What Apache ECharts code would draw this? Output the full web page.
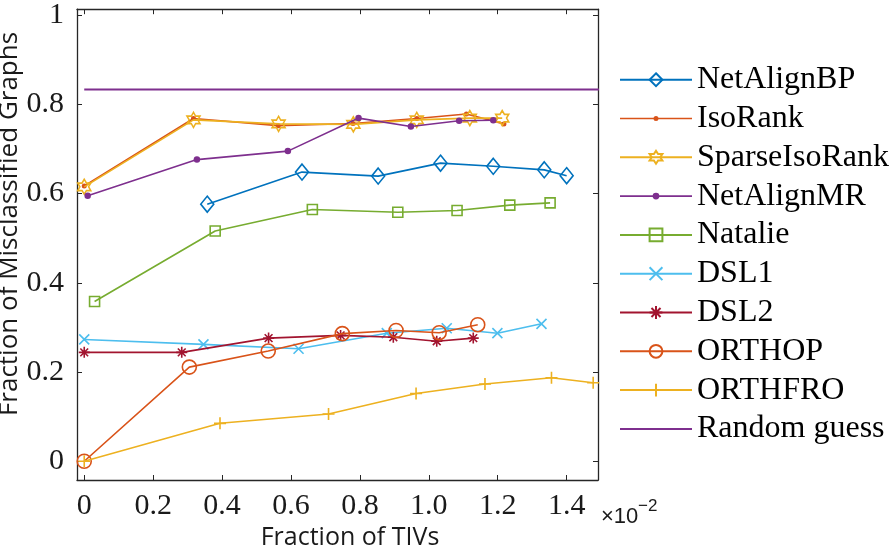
<!DOCTYPE html>
<html>
<head>
<meta charset="utf-8">
<script src="https://cdn.jsdelivr.net/npm/echarts@6/dist/echarts.min.js"></script>
<style>
html,body{margin:0;padding:0;background:#fff;}
#chart{width:894px;height:551px;}
</style>
</head>
<body>
<div id="chart"></div>
<script>
// ---- data (x in units of 1e-2) ----
const seriesNames = ["NetAlignBP","IsoRank","SparseIsoRank","NetAlignMR","Natalie","DSL1","DSL2","ORTHOP","ORTHFRO","Random guess"];
const netAlignBPX = [0.357,0.632,0.853,1.034,1.187,1.335,1.400];
const netAlignBPY = [0.576,0.648,0.639,0.668,0.661,0.653,0.640];
const isoRankX = [0,0.317,0.563,0.780,0.965,1.109,1.218];
const isoRankY = [0.617,0.768,0.752,0.757,0.768,0.778,0.756];
const sparseIsoRankX = [0,0.317,0.564,0.781,0.965,1.119,1.213];
const sparseIsoRankY = [0.615,0.765,0.756,0.755,0.765,0.769,0.769];
const netAlignMRX = [0.010,0.327,0.591,0.796,0.948,1.088,1.187];
const netAlignMRY = [0.595,0.676,0.695,0.769,0.750,0.763,0.764];
const natalieX = [0.030,0.380,0.662,0.910,1.082,1.235,1.352];
const natalieY = [0.358,0.516,0.564,0.558,0.562,0.574,0.579];
const dsl1X = [0,0.346,0.622,0.878,1.052,1.199,1.327];
const dsl1Y = [0.273,0.262,0.252,0.287,0.298,0.287,0.308];
const dsl2X = [0,0.283,0.535,0.744,0.897,1.023,1.129];
const dsl2Y = [0.244,0.244,0.276,0.282,0.278,0.269,0.276];
const orthopX = [0,0.305,0.534,0.749,0.905,1.030,1.142];
const orthopY = [0,0.211,0.247,0.286,0.293,0.288,0.306];
const orthfroX = [0,0.394,0.709,0.963,1.163,1.356,1.477];
const orthfroY = [0,0.085,0.106,0.152,0.173,0.187,0.176];
const randomGuessX = [0,1.5];
const randomGuessY = [0.833,0.833];

const xTicks = [0,0.2,0.4,0.6,0.8,1.0,1.2,1.4];
const xTickLabels = ["0","0.2","0.4","0.6","0.8","1.0","1.2","1.4"];
const yTicks = [0,0.2,0.4,0.6,0.8,1];
const yTickLabels = ["0","0.2","0.4","0.6","0.8","1"];
const xRange = [-0.021,1.491];
const yRange = [-0.042,1.013];
const xTitle = "Fraction of TIVs";
const yTitle = "Fraction of Misclassified Graphs";
const xExpBase = "×10";
const xExponent = "−2";

const colors = ["#0072BD","#D95319","#EDB120","#7E2F8E","#77AC30","#4DBEEE","#A2142F","#D95319","#EDB120","#7E2F8E"];

function zip(xs, ys){ return xs.map((x,i)=>[x, ys[i]]); }

const HEX = 'path://M10,0L7.113,5L1.34,5L4.226,10L1.34,15L7.113,15L10,20L12.887,15L18.66,15L15.774,10L18.66,5L12.887,5Z';
const XMARK = 'path://M0,0L10,10M0,10L10,0';
const ASTER = 'path://M5,0L5,10M0,5L10,5M1.46,1.46L8.54,8.54M1.46,8.54L8.54,1.46';
const PLUS = 'path://M5,0L5,10M0,5L10,5';
// legend icons for small-dot / plain-line entries
const ICON_DOT_S = 'path://M0,7.2L72,7.2L72,8.8L0,8.8Z M33.5,8A2.5,2.5,0,1,1,38.5,8A2.5,2.5,0,1,1,33.5,8Z';
const ICON_DOT_M = 'path://M0,7.2L72,7.2L72,8.8L0,8.8Z M32.6,8A3.4,3.4,0,1,1,39.4,8A3.4,3.4,0,1,1,32.6,8Z';
const ICON_LINE = 'path://M0,7L72,7L72,9L0,9Z';

const dataSets = [
  zip(netAlignBPX, netAlignBPY), zip(isoRankX, isoRankY), zip(sparseIsoRankX, sparseIsoRankY),
  zip(netAlignMRX, netAlignMRY), zip(natalieX, natalieY), zip(dsl1X, dsl1Y), zip(dsl2X, dsl2Y),
  zip(orthopX, orthopY), zip(orthfroX, orthfroY), zip(randomGuessX, randomGuessY)
];
// marker definitions: [symbol, size, filled, legendIcon]
const markers = [
  ['diamond',[13,16],false,null],
  ['circle',5,true,ICON_DOT_S],
  [HEX,[13,15],false,null],
  ['circle',6.5,true,ICON_DOT_M],
  ['rect',10,false,null],
  [XMARK,10,false,null],
  [ASTER,11,false,null],
  ['circle',14,false,null],
  [PLUS,12,false,null],
  ['none',0,true,ICON_LINE]
];

const series = seriesNames.map((name,i)=>{
  const c = colors[i];
  const m = markers[i];
  return {
    name: name,
    type: 'line',
    data: dataSets[i],
    symbol: m[0],
    symbolSize: m[1],
    showSymbol: m[0] !== 'none',
    clip: true,
    animation: false,
    lineStyle: {color: c, width: i===9 ? 2 : 1.6},
    itemStyle: m[2] ? {color: c, borderColor: c, borderWidth: 0}
                    : {color: 'rgba(0,0,0,0)', borderColor: c, borderWidth: 1.6},
    emphasis: {disabled: true},
    z: 2 + i
  };
});

const legendData = seriesNames.map((n,i)=> markers[i][3] ? {name: n, icon: markers[i][3]} : {name: n});

const axisCol = '#262626';
const chart = echarts.init(document.getElementById('chart'), null, {renderer: 'canvas'});
chart.setOption({
  backgroundColor: '#fff',
  animation: false,
  color: colors,
  grid: {left: 77, right: 296, top: 5, bottom: 71, containLabel: false},
  xAxis: [{
    type: 'value', min: xRange[0], max: xRange[1], position: 'bottom',
    axisLine: {show: true, onZero: false, lineStyle: {color: axisCol, width: 1.3}},
    axisTick: {show: true, inside: true, length: 5, customValues: xTicks, lineStyle: {color: axisCol, width: 1}},
    axisLabel: {show: true, customValues: xTicks, margin: 11,
      formatter: (v)=>{ const k = xTicks.findIndex(t=>Math.abs(t-v)<1e-9); return k>=0 ? xTickLabels[k] : ''; },
      fontFamily: 'Liberation Serif', fontSize: 30, color: '#1a1a1a'},
    splitLine: {show: false}
  },{
    type: 'value', min: xRange[0], max: xRange[1], position: 'top',
    axisLine: {show: true, onZero: false, lineStyle: {color: axisCol, width: 1.3}},
    axisTick: {show: true, inside: true, length: 5, customValues: xTicks, lineStyle: {color: axisCol, width: 1}},
    axisLabel: {show: false}, splitLine: {show: false}
  }],
  yAxis: [{
    type: 'value', min: yRange[0], max: yRange[1], position: 'left',
    axisLine: {show: true, onZero: false, lineStyle: {color: axisCol, width: 1.3}},
    axisTick: {show: true, inside: true, length: 5, customValues: yTicks, lineStyle: {color: axisCol, width: 1}},
    axisLabel: {show: true, customValues: yTicks, margin: 13,
      formatter: (v)=>{ const k = yTicks.findIndex(t=>Math.abs(t-v)<1e-9); return k>=0 ? yTickLabels[k] : ''; },
      fontFamily: 'Liberation Serif', fontSize: 30, color: '#1a1a1a'},
    splitLine: {show: false}
  },{
    type: 'value', min: yRange[0], max: yRange[1], position: 'right',
    axisLine: {show: true, onZero: false, lineStyle: {color: axisCol, width: 1.3}},
    axisTick: {show: true, inside: true, length: 5, customValues: yTicks, lineStyle: {color: axisCol, width: 1}},
    axisLabel: {show: false}, splitLine: {show: false}
  }],
  legend: {
    orient: 'vertical', left: 619, top: 63.7, padding: 0,
    itemWidth: 72, itemHeight: 16, itemGap: 6.8,
    data: legendData,
    textStyle: {fontFamily: 'Liberation Serif', fontSize: 32, color: '#000', lineHeight: 32},
    selectedMode: false
  },
  graphic: [
    {type: 'text', x: 350, y: 538, style: {text: xTitle, font: '25px "Open Sans"', fill: '#1a1a1a', align: 'center', verticalAlign: 'middle'}},
    {type: 'text', x: 10, y: 224, rotation: Math.PI/2, style: {text: yTitle, font: '26px "Open Sans"', fill: '#1a1a1a', align: 'center', verticalAlign: 'middle'}},
    {type: 'text', x: 601, y: 517, style: {text: xExpBase, font: '22px "Liberation Sans"', fill: '#1a1a1a', align: 'left', verticalAlign: 'middle'}},
    {type: 'text', x: 638, y: 506, style: {text: xExponent, font: '17px "Liberation Sans"', fill: '#1a1a1a', align: 'left', verticalAlign: 'middle'}}
  ],
  series: series
});
</script>
</body>
</html>
